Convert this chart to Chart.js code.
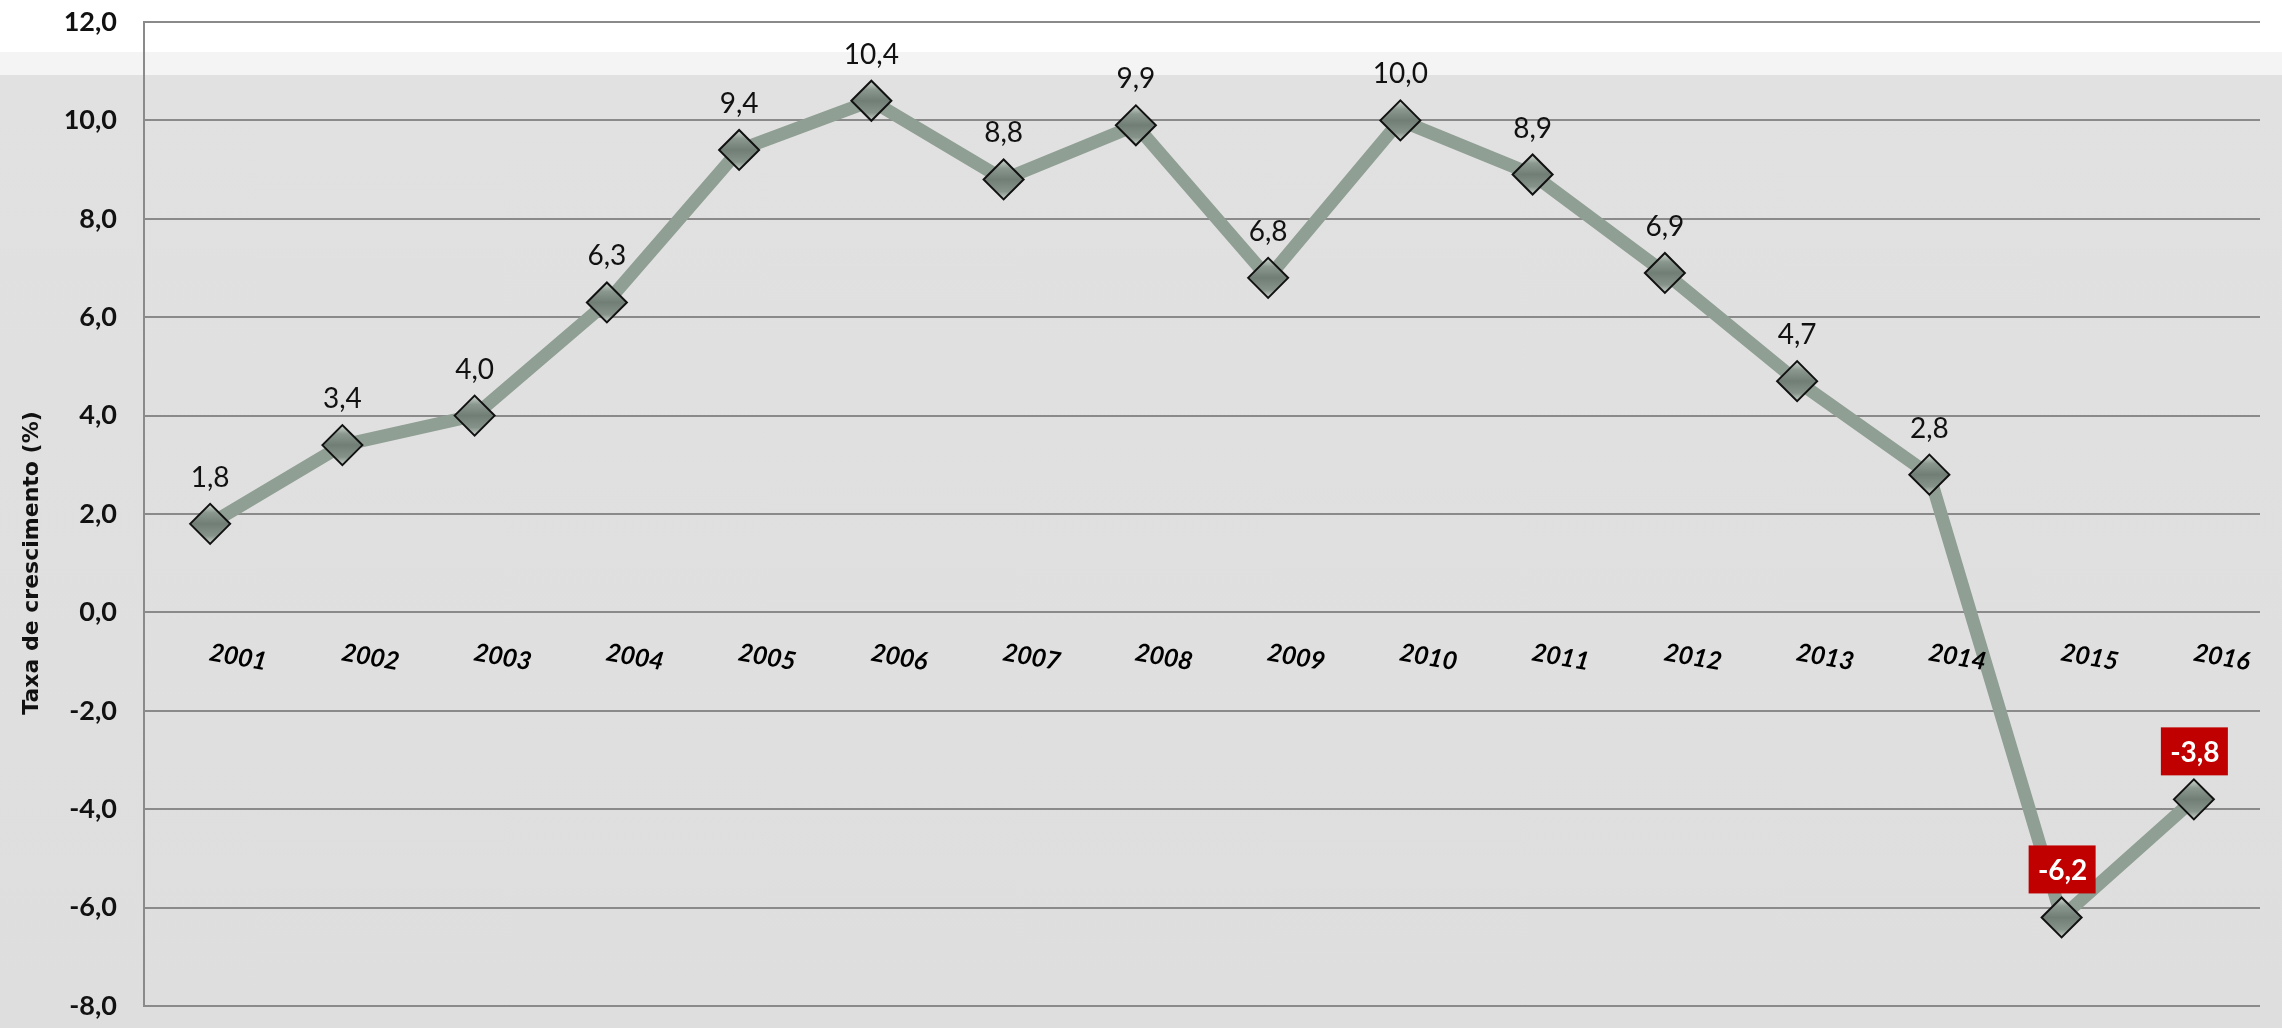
<!DOCTYPE html>
<html>
<head>
<meta charset="utf-8">
<script src="https://cdn.jsdelivr.net/npm/chart.js@4.4.1/dist/chart.umd.min.js"></script>
<style>
  html, body { margin: 0; padding: 0; }
  body {
    width: 2282px; height: 1028px; overflow: hidden;
    background: linear-gradient(to bottom, #ffffff 0, #ffffff 52px, #f4f4f4 52px, #f4f4f4 75px, #e1e1e1 75px, #dedede 100%);
  }
  canvas { display: block; }
</style>
</head>
<body>
<canvas id="growthLine" width="2282" height="1028"></canvas>
<script>
// data
const years = ["2001","2002","2003","2004","2005","2006","2007","2008",
               "2009","2010","2011","2012","2013","2014","2015","2016"];
const growthRate = [1.8, 3.4, 4.0, 6.3, 9.4, 10.4, 8.8, 9.9,
                    6.8, 10.0, 8.9, 6.9, 4.7, 2.8, -6.2, -3.8];
const yMin = -8, yMax = 12, yStep = 2;
const yTitle = "Taxa de crescimento (%)";

const GRID = "#8a8a8a";

function fmt(v){
  return v.toFixed(1).replace(".", ",");
}

// bevelled look for the diamonds
function markerFill(c){
  const y = c.chart.scales && c.chart.scales.y;
  if (!y || !c.parsed) return "#76837b";
  const py = y.getPixelForValue(c.parsed.y);
  if (!isFinite(py)) return "#76837b";
  const g = c.chart.ctx.createLinearGradient(0, py - 20, 0, py + 20);
  g.addColorStop(0, "#d0d9d3");
  g.addColorStop(0.22, "#8b988f");
  g.addColorStop(0.5, "#717e76");
  g.addColorStop(0.8, "#86938a");
  g.addColorStop(1, "#c8d2cb");
  return g;
}

// value labels above each point; negatives get the red box
const valueLabels = {
  id: "valueLabels",
  afterDatasetsDraw(chart){
    const ctx = chart.ctx;
    const meta = chart.getDatasetMeta(0);
    ctx.save();
    ctx.textAlign = "center";
    ctx.textBaseline = "alphabetic";
    meta.data.forEach((pt, i) => {
      const v = growthRate[i];
      const txt = fmt(v);
      if (v < 0) {
        ctx.fillStyle = "#c00000";
        ctx.fillRect(pt.x - 33, pt.y - 72, 67, 48);
        ctx.font = "bold 28px Lato";
        ctx.fillStyle = "#ffffff";
        ctx.fillText(txt, pt.x + 1, pt.y - 37);
      } else {
        ctx.font = "28px Lato";
        ctx.fillStyle = "#111111";
        ctx.fillText(txt, pt.x, pt.y - 37);
      }
    });
    ctx.restore();
  }
};

// year labels sit just under the zero line, tilted
const yearLabels = {
  id: "yearLabels",
  afterDraw(chart){
    const ctx = chart.ctx;
    const xs = chart.scales.x, ys = chart.scales.y;
    const y0 = ys.getPixelForValue(0);
    ctx.save();
    ctx.font = "italic bold 25px Lato";
    ctx.fillStyle = "#000000";
    ctx.textAlign = "center";
    ctx.textBaseline = "middle";
    years.forEach((yr, i) => {
      ctx.save();
      ctx.translate(xs.getPixelForValue(i) + 28, y0 + 45);
      ctx.rotate(10 * Math.PI / 180);
      ctx.fillText(yr, 0, 0);
      ctx.restore();
    });
    // axis title
    ctx.translate(32, 563);
    ctx.rotate(-Math.PI / 2);
    ctx.font = "bold 22px 'DejaVu Sans'";
    ctx.fillStyle = "#111111";
    ctx.fillText(yTitle, 0, 0);
    ctx.restore();
  }
};

new Chart(document.getElementById("growthLine"), {
  type: "line",
  data: {
    labels: years,
    datasets: [{
      data: growthRate,
      borderColor: "#8f9f94",
      borderWidth: 13,
      tension: 0,
      pointStyle: "rectRot",
      pointRadius: 20,
      pointHoverRadius: 20,
      pointBorderWidth: 2,
      pointBorderColor: "#111111",
      pointBackgroundColor: markerFill,
      clip: false
    }]
  },
  options: {
    responsive: false,
    animation: false,
    events: [],
    layout: { padding: { top: 22, bottom: 16, right: 15, left: 0 } },
    plugins: { legend: { display: false }, tooltip: { enabled: false } },
    scales: {
      x: { display: false, offset: true },
      y: {
        min: yMin, max: yMax,
        afterFit(s){ s.width = 144; s.paddingTop = 0; s.paddingBottom = 0; },
        ticks: {
          stepSize: yStep,
          padding: 27,
          color: "#111111",
          font: { family: "Lato", weight: "bold", size: 27 },
          callback: v => fmt(v)
        },
        grid: { color: GRID, lineWidth: 2, drawTicks: false, tickLength: 0 },
        border: { display: true, color: GRID, width: 2 }
      }
    }
  },
  plugins: [valueLabels, yearLabels]
});
</script>
</body>
</html>
